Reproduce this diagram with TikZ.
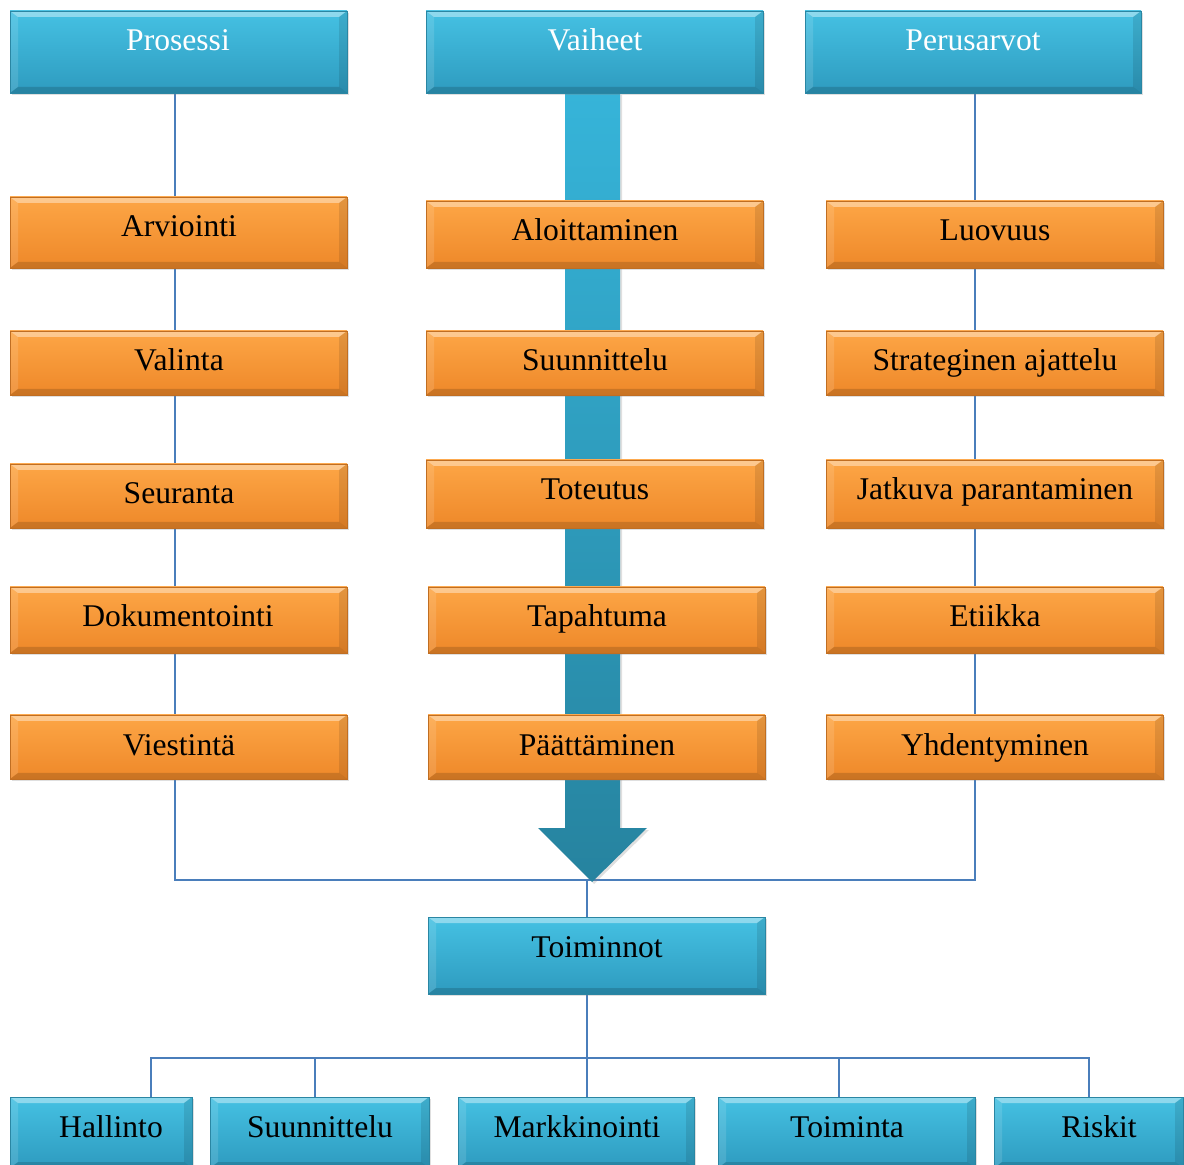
\documentclass[tikz,border=0pt]{standalone}
\usepackage{fontspec}
\setmainfont{Liberation Serif}
\usetikzlibrary{shadows,backgrounds}
\definecolor{cyT}{HTML}{45C1E3}
\definecolor{cyB}{HTML}{2E9BBF}
\definecolor{cyD}{HTML}{2A86A3}
\definecolor{orT}{HTML}{FDA646}
\definecolor{orB}{HTML}{EE8829}
\definecolor{orD}{HTML}{C06E22}
\definecolor{arT}{HTML}{36B4D9}
\definecolor{arB}{HTML}{26839F}
\definecolor{lnC}{HTML}{4A7EBB}
\tikzset{
  bevel/.style={path picture={
    \fill[white,opacity=0.4] (path picture bounding box.north west) -- (path picture bounding box.north east)
      -- ([xshift=-4pt,yshift=-3pt]path picture bounding box.north east) -- ([xshift=4pt,yshift=-3pt]path picture bounding box.north west) -- cycle;
    \fill[white,opacity=0.12] (path picture bounding box.north west) -- ([xshift=4pt,yshift=-3pt]path picture bounding box.north west)
      -- ([xshift=4pt,yshift=3pt]path picture bounding box.south west) -- (path picture bounding box.south west) -- cycle;
    \fill[black,opacity=0.1] (path picture bounding box.north east) -- ([xshift=-4pt,yshift=-3pt]path picture bounding box.north east)
      -- ([xshift=-4pt,yshift=3pt]path picture bounding box.south east) -- (path picture bounding box.south east) -- cycle;
    \fill[black,opacity=0.15] (path picture bounding box.south west) -- (path picture bounding box.south east)
      -- ([xshift=-4pt,yshift=3pt]path picture bounding box.south east) -- ([xshift=4pt,yshift=3pt]path picture bounding box.south west) -- cycle;
  }},
  cybox/.style={rectangle, top color=cyT, bottom color=cyB, draw=cyD, line width=0.3pt, bevel,
    drop shadow={shadow xshift=1.2pt, shadow yshift=-1.2pt, opacity=0.25}},
  orbox/.style={rectangle, top color=orT, bottom color=orB, draw=orD, line width=0.3pt, bevel,
    drop shadow={shadow xshift=1.2pt, shadow yshift=-1.2pt, opacity=0.25}},
  txt/.style={font=\fontsize{15.8}{18}\selectfont, text=black, inner sep=0pt, text height=11pt, text depth=0pt},
  wtxt/.style={txt, text=white},
  conn/.style={draw=lnC, line width=0.6pt},
}
\newcommand\mkbox[6]{%
  \pgfmathsetmacro\mybw{(#5-#3)*0.5}\pgfmathsetmacro\mybh{(#6-#4)*0.5}%
  \node[#2, minimum width=\mybw pt, minimum height=\mybh pt, inner sep=0pt] (#1) at ({(#3+#5)/2},{(#4+#6)/2}) {};}
\begin{document}
\begin{tikzpicture}[x=0.5pt,y=-0.5pt]
\useasboundingbox (0,0) rectangle (1184,1165);
% column 1
\mkbox{prosessi}{cybox}{10}{11}{347}{93}
\mkbox{arv}{orbox}{10}{197}{347}{268}
\mkbox{val}{orbox}{10}{331}{347}{395}
\mkbox{seu}{orbox}{10}{464}{347}{528}
\mkbox{dok}{orbox}{10}{587}{347}{653}
\mkbox{vie}{orbox}{10}{715}{347}{779}
% column 2
\mkbox{vaiheet}{cybox}{426}{11}{763}{93}
\mkbox{alo}{orbox}{426}{201}{763}{268}
\mkbox{suu}{orbox}{426}{331}{763}{395}
\mkbox{tot}{orbox}{426}{460}{763}{528}
\mkbox{tap}{orbox}{428}{587}{765}{653}
\mkbox{paa}{orbox}{428}{715}{765}{779}
% column 3
\mkbox{perus}{cybox}{805}{11}{1141}{93}
\mkbox{luo}{orbox}{826}{201}{1163}{268}
\mkbox{str}{orbox}{826}{331}{1163}{395}
\mkbox{jat}{orbox}{826}{460}{1163}{528}
\mkbox{eti}{orbox}{826}{587}{1163}{653}
\mkbox{yhd}{orbox}{826}{715}{1163}{779}
% Toiminnot
\mkbox{toim}{cybox}{428}{917}{765}{994}
% bottom row
\mkbox{hal}{cybox}{10}{1097}{192}{1168}
\mkbox{bsuu}{cybox}{210}{1097}{429}{1168}
\mkbox{mar}{cybox}{458}{1097}{694}{1168}
\mkbox{toa}{cybox}{718}{1097}{975}{1168}
\mkbox{ris}{cybox}{994}{1097}{1183}{1168}
% texts
\node[wtxt] (t1) at (178,40) {Prosessi};
\node[wtxt] (t2) at (595,40) {Vaiheet};
\node[wtxt] (t3) at (973,40) {Perusarvot};
\node[txt] (t4) at (179,226) {Arviointi};
\node[txt] (t5) at (595,230) {Aloittaminen};
\node[txt] (t6) at (995,230) {Luovuus};
\node[txt] (t7) at (179,360) {Valinta};
\node[txt] (t8) at (595,360) {Suunnittelu};
\node[txt] (t9) at (995,360) {Strateginen ajattelu};
\node[txt] (t10) at (179,493) {Seuranta};
\node[txt] (t11) at (595,489) {Toteutus};
\node[txt] (t12) at (995,489) {Jatkuva parantaminen};
\node[txt] (t13) at (178,616) {Dokumentointi};
\node[txt] (t14) at (597,616) {Tapahtuma};
\node[txt] (t15) at (995,616) {Etiikka};
\node[txt] (t16) at (179,744) {Viestintä};
\node[txt] (t17) at (597,744) {Päättäminen};
\node[txt] (t18) at (995,744) {Yhdentyminen};
\node[txt] (t19) at (597,946) {Toiminnot};
\node[txt] (t20) at (111,1126) {Hallinto};
\node[txt] (t21) at (320,1126) {Suunnittelu};
\node[txt] (t22) at (577,1126) {Markkinointi};
\node[txt] (t23) at (847,1126) {Toiminta};
\node[txt] (t24) at (1099,1126) {Riskit};
% connectors and arrow behind
\begin{scope}[on background layer]
  \coordinate (c1) at (175,0);
  \coordinate (c3) at (975,0);
  \coordinate (j1) at (587,880);
  \coordinate (j2) at (587,1058);
  \coordinate (b1) at (151,1058);
  \coordinate (b2) at (315,1058);
  \coordinate (b4) at (839,1058);
  \coordinate (b5) at (1089,1058);
  \draw[conn] (c1 |- prosessi.south) -- (c1 |- j1) -- (c3 |- j1) -- (c3 |- perus.south);
  \draw[conn] (j1) -- (j1 |- toim.north);
  \draw[conn] (j1 |- toim.south) -- (j2);
  \draw[conn] (b1 |- hal.north) -- (b1) -- (b5) -- (b5 |- ris.north);
  \draw[conn] (b2) -- (b2 |- bsuu.north);
  \draw[conn] (j2) -- (j2 |- mar.north);
  \draw[conn] (b4) -- (b4 |- toa.north);
  \shade[top color=arT, bottom color=arB, drop shadow={shadow xshift=1pt, shadow yshift=-1pt, opacity=0.25}]
    (565,93) -- (620,93) -- (620,828) -- (647,828) -- (592,882) -- (538,828) -- (565,828) -- cycle;
\end{scope}
\end{tikzpicture}
\end{document}
